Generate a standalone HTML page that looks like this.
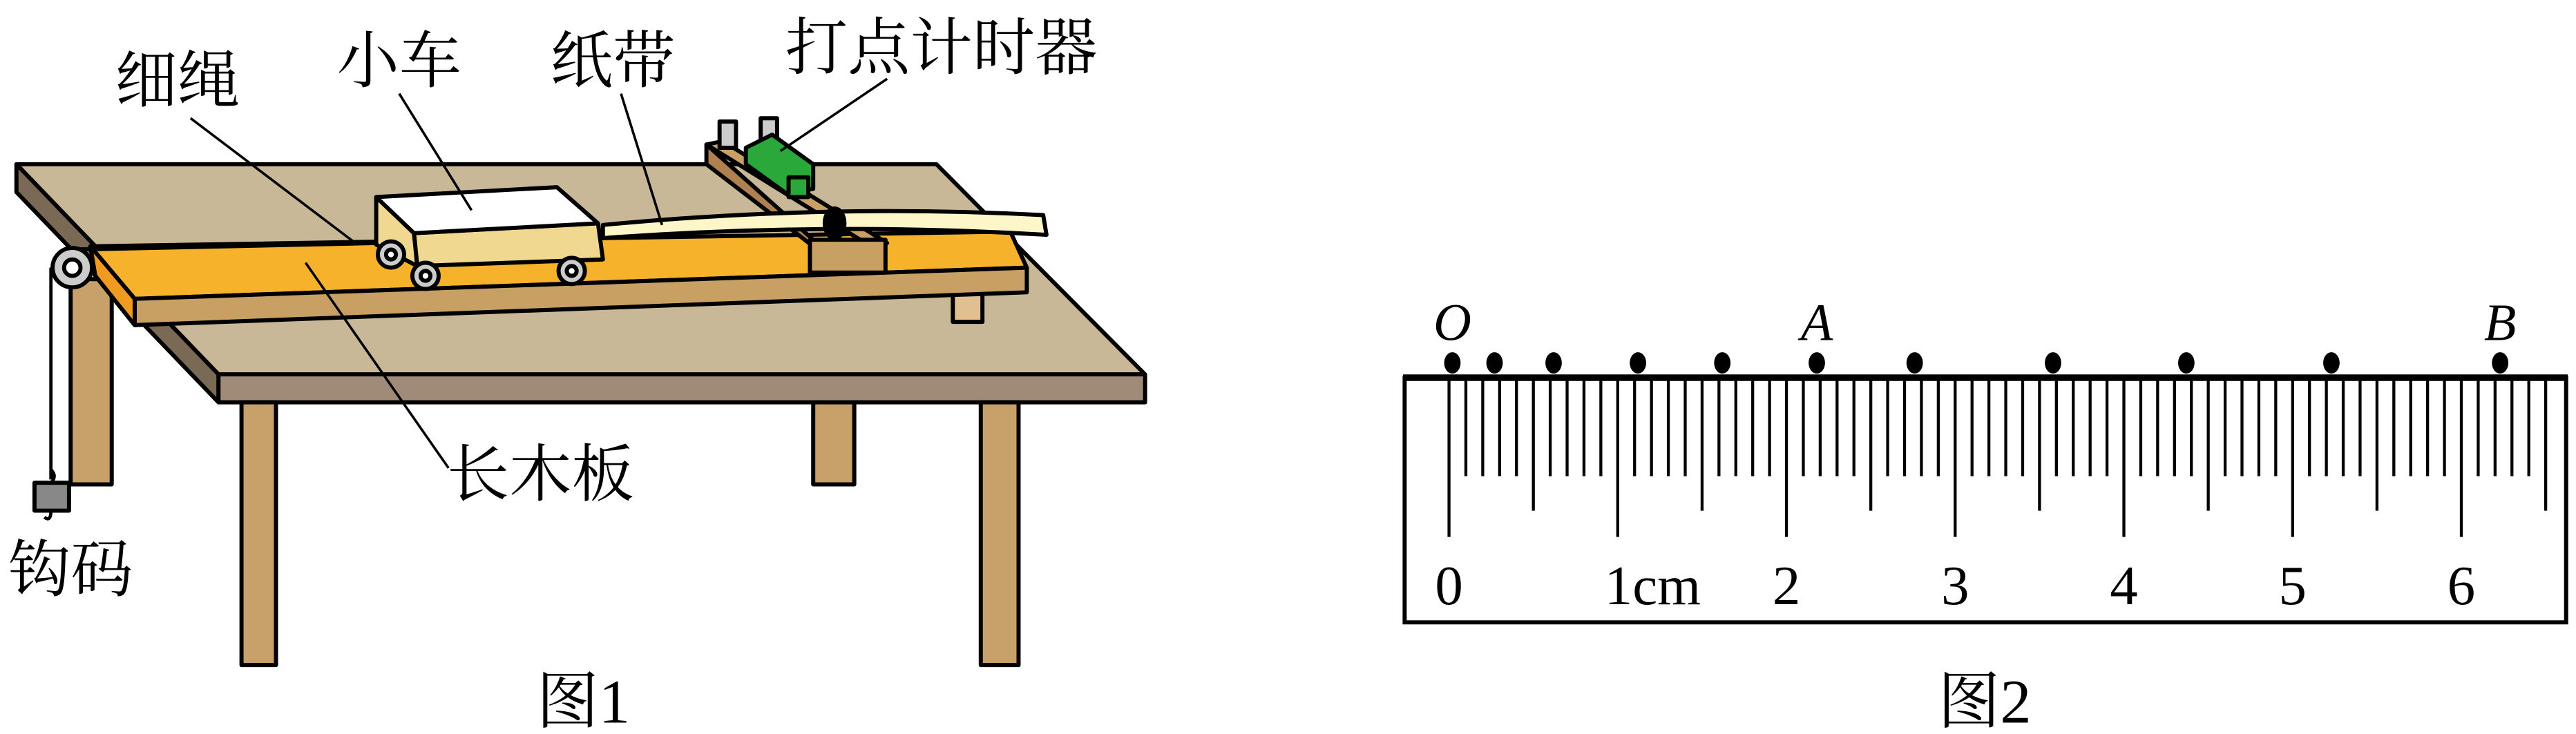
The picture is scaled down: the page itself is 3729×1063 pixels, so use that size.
<!DOCTYPE html>
<html><head><meta charset="utf-8"><style>
html,body{margin:0;padding:0;background:#fff;}
svg{display:block;}
text{font-family:"Liberation Serif","Noto Serif CJK SC",serif;}
</style></head><body>
<svg id="fig" width="3729" height="1063" viewBox="0 0 1568 447" preserveAspectRatio="none" xmlns="http://www.w3.org/2000/svg">
<g stroke="#000" stroke-width="2.5" stroke-linejoin="round">
  <rect x="43" y="170" width="25" height="125" fill="#c8a06a"/>
  <rect x="495" y="240" width="25" height="55" fill="#c8a06a"/>
  <polygon points="10,100 570,100 697,228 133,228" fill="#c8b898"/>
  <polygon points="10,100 133,228 133,245 10,117" fill="#7a6a55"/>
  <rect x="133" y="228" width="564" height="17" fill="#a08a78"/>
  <rect x="147" y="245" width="21" height="160" fill="#c8a06a"/>
  <rect x="597" y="245" width="23" height="160" fill="#c8a06a"/>
  <rect x="580" y="175" width="18" height="21" fill="#e0c090"/>
  <polygon points="55,150 615,141 625,163 82,182" fill="#f5b22a"/>
  <polygon points="55,150 82,182 82,198 58,168" fill="#f09a20"/>
  <polygon points="82,182 625,163 625,178 82,198" fill="#c8a064"/>
  <polygon points="430,88 440,86 540,148 530,150" fill="#c8a064"/>
  <polygon points="430,88 430,100 495,150 495,146" fill="#b08050"/>
  <rect x="493" y="146" width="46" height="20" fill="#c8a064"/>
  <rect x="438" y="74" width="10" height="16" fill="#ccc"/>
  <rect x="463" y="72" width="10" height="14" fill="#ccc"/>
  <polygon points="454,90 470,82 495,100 495,115 479,118 454,100" fill="#2aa83a"/>
  <rect x="480" y="108" width="12" height="12" fill="#2aa83a"/>
  <path d="M367,137 Q504,124 635,131 L637,143 Q504,135 367,145 Z" fill="#fdf6c8"/>
  <ellipse cx="508" cy="136" rx="6" ry="9" fill="#000"/>
  <line x1="44" y1="152" x2="229" y2="148" stroke-width="2.5"/>
  <line x1="31" y1="163" x2="31" y2="292" stroke-width="2"/>
  <circle cx="44" cy="163" r="12" fill="#ccc"/>
  <circle cx="44" cy="163" r="5" fill="#fff"/>
  <rect x="21" y="294" width="21" height="17" fill="#888"/>
  <path d="M31,286 q4,4 0,8 M31,311 q0,7 -4,4" fill="none" stroke-width="2"/>
  <polygon points="229,120 252,142 254,162 229,149" fill="#f0d890"/>
  <polygon points="252,142 364,136 367,158 254,162" fill="#f0d890"/>
  <polygon points="229,120 339,114 364,136 252,142" fill="#fff"/>
  <g fill="#ccc">
    <circle cx="238" cy="155" r="8"/><circle cx="259" cy="168" r="8"/><circle cx="348" cy="165" r="8"/>
  </g>
  <g fill="#fff"><circle cx="238" cy="155" r="3"/><circle cx="259" cy="168" r="3"/><circle cx="348" cy="165" r="3"/></g>
  <g stroke-width="1.5">
    <line x1="116" y1="72" x2="215" y2="147"/>
    <line x1="243" y1="57" x2="287" y2="128"/>
    <line x1="378" y1="57" x2="403" y2="137"/>
    <line x1="540" y1="48" x2="475" y2="92"/>
    <line x1="273" y1="285" x2="186" y2="160"/>
  </g>
</g>
<g font-size="38" fill="#000">
  <text x="70" y="62">细绳</text>
  <text x="205" y="50">小车</text>
  <text x="335" y="50">纸带</text>
  <text x="478" y="42">打点计时器</text>
  <text x="272" y="302">长木板</text>
  <text x="5" y="360">钩码</text>
  <text x="355" y="440" text-anchor="middle">图1</text>
</g>
<g id="ruler">
  <rect x="855" y="230" width="707" height="149" fill="#fff" stroke="#000" stroke-width="2.5"/>
  <line x1="854" y1="230" x2="1563" y2="230" stroke="#000" stroke-width="4"/>
</g>
<text x="1208" y="440" font-size="38" text-anchor="middle">图2</text>
<script>
const cmLabels = ["0","1cm","2","3","4","5","6"];
const dotPositionsCm = [0.02,0.27,0.62,1.12,1.62,2.18,2.76,3.58,4.37,5.23,6.23];
const pointNames = ["O","A","B"];
const pointDotIndex = [0,5,10];
const mmCount = 65;
const NS="http://www.w3.org/2000/svg";
const g=document.getElementById('ruler');
const X0=882, CM=102.7;
function xs(cm){return X0+cm*CM;}
for(let i=0;i<=mmCount;i++){
  const l=document.createElementNS(NS,'line');
  const x=xs(i/10);
  const y2 = i%10===0?327:(i%5===0?311:290);
  l.setAttribute('x1',x);l.setAttribute('x2',x);l.setAttribute('y1',231);l.setAttribute('y2',y2);
  l.setAttribute('stroke','#000');l.setAttribute('stroke-width','1.8');
  
  
  g.appendChild(l);
}
cmLabels.forEach((t,i)=>{
  const e=document.createElementNS(NS,'text');
  e.setAttribute('y',368);e.setAttribute('font-size','34');
  e.setAttribute('text-anchor', i===1?'start':'middle');
  e.setAttribute('x', i===1? xs(i)-8 : xs(i));
  e.textContent=t;
  
  
  g.appendChild(e);
});
dotPositionsCm.forEach(c=>{
  const e=document.createElementNS(NS,'ellipse');
  e.setAttribute('cx',xs(c));e.setAttribute('cy',221);e.setAttribute('rx',5);e.setAttribute('ry',6.5);
  
  
  g.appendChild(e);
});
pointNames.forEach((n,i)=>{
  const e=document.createElementNS(NS,'text');
  e.setAttribute('x',xs(dotPositionsCm[pointDotIndex[i]]));e.setAttribute('y',207);
  e.setAttribute('font-size','32');e.setAttribute('font-style','italic');e.setAttribute('text-anchor','middle');
  e.textContent=n;
  
  
  g.appendChild(e);
});
</script>
</svg>
</body></html>
